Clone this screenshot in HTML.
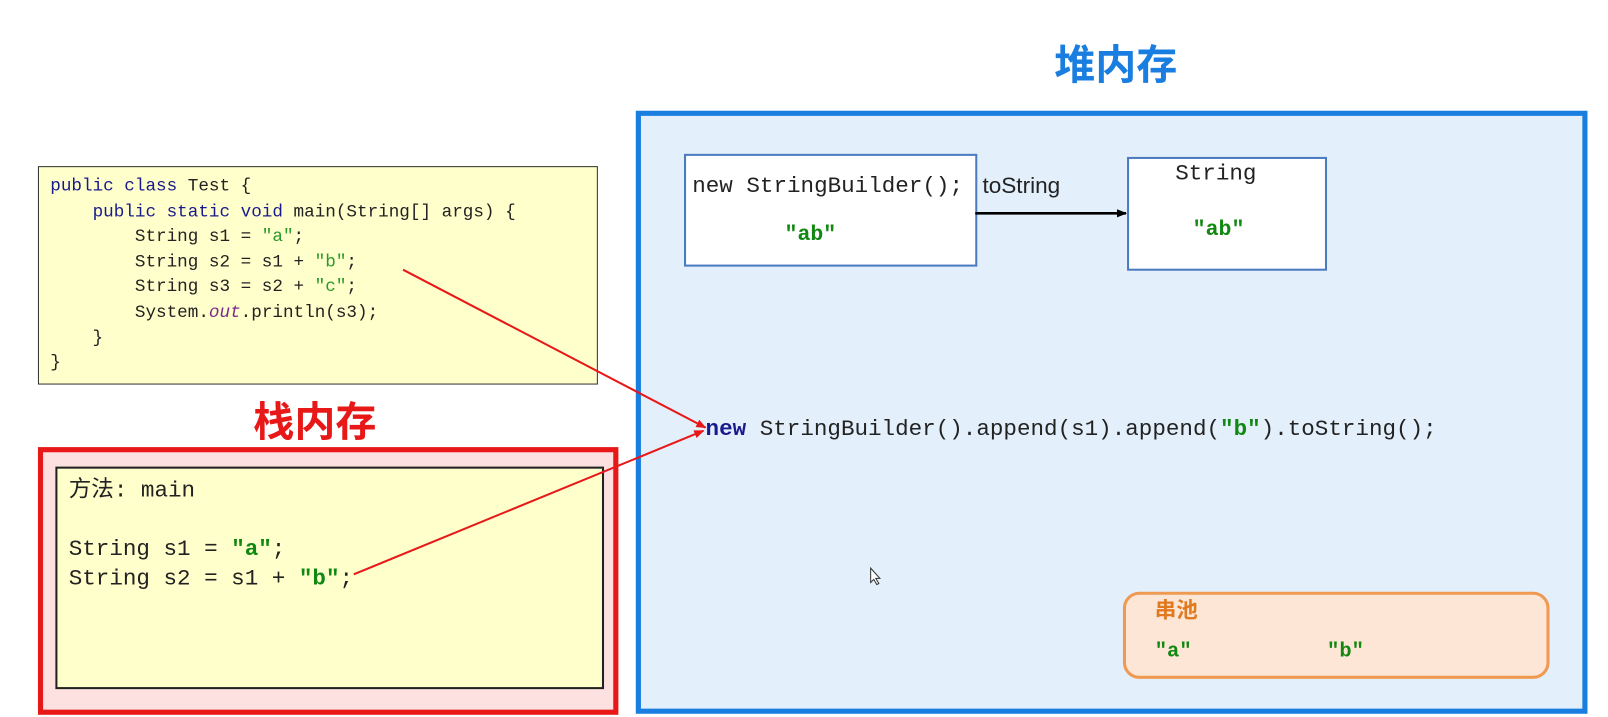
<!DOCTYPE html>
<html><head><meta charset="utf-8"><style>
body{margin:0;width:1608px;height:717px;background:#fff;position:relative;overflow:hidden;font-family:"Liberation Sans","Noto Sans CJK SC",sans-serif}
#w{position:absolute;left:0;top:0;width:1568px;height:699px;transform:scale(1.02551);transform-origin:0 0}
.abs{position:absolute}
.mono{font-family:"Liberation Mono","Noto Sans CJK SC",monospace;white-space:pre}
.kw{color:#1a1a8c}.str{color:#2a9a2a}.g{color:#118811;font-weight:bold}
</style></head><body><div id="w">
<div class="abs" style="left:1028px;top:31px;font-size:40px;font-weight:bold;color:#1a7ee0">堆内存</div>
<div class="abs" style="left:620px;top:108px;width:918px;height:578px;border:5px solid #1a7ee0;background:#e3f0fc"></div>
<div class="abs" style="left:667px;top:150px;width:282px;height:106px;border:2px solid #4a7abf;background:#fff"></div>
<div class="abs mono" style="left:675px;top:169px;font-size:22px;color:#222">new StringBuilder();</div>
<div class="abs mono g" style="left:765px;top:218px;font-size:21px">"ab"</div>
<div class="abs" style="left:958px;top:168px;font-size:22px;color:#222">toString</div>
<div class="abs" style="left:1099px;top:153px;width:191px;height:107px;border:2px solid #4a7abf;background:#fff"></div>
<div class="abs mono" style="left:1146px;top:157px;font-size:22px;color:#222">String</div>
<div class="abs mono g" style="left:1163px;top:213px;font-size:21px">"ab"</div>
<div class="abs mono" style="left:688px;top:406px;font-size:22px;color:#222"><b class="kw">new</b> StringBuilder().append(s1).append(<span class="g">"b"</span>).toString();</div>
<div class="abs" style="left:1095px;top:577px;width:410px;height:79px;border:3px solid #ef9a52;border-radius:16px;background:#fde6d6"></div>
<div class="abs" style="left:1126px;top:579px;font-size:21px;font-weight:bold;color:#e07a20">串池</div>
<div class="abs mono g" style="left:1126px;top:624px;font-size:20px">"a"</div>
<div class="abs mono g" style="left:1294px;top:624px;font-size:20px">"b"</div>

<div class="abs" style="left:37px;top:162px;width:544px;height:211px;border:1.5px solid #333;background:#ffffcc"></div>
<div class="abs mono" style="left:49px;top:171px;font-size:17.2px;line-height:24.6px;color:#222"><span class="kw">public class</span> Test {
    <span class="kw">public static void</span> main(String[] args) {
        String s1 = <span class="str">"a"</span>;
        String s2 = s1 + <span class="str">"b"</span>;
        String s3 = s2 + <span class="str">"c"</span>;
        System.<i style="color:#7a2a8a">out</i>.println(s3);
    }
}</div>
<div class="abs" style="left:247px;top:379px;font-size:40px;font-weight:bold;color:#e81818">栈内存</div>
<div class="abs" style="left:37px;top:436px;width:556px;height:251px;border:5px solid #e81818;background:#fde0e0"></div>
<div class="abs" style="left:54px;top:455px;width:531px;height:213px;border:2px solid #222;background:#ffffcc"></div>
<div class="abs mono" style="left:67px;top:465px;font-size:22px;line-height:28.5px;color:#222">方法: main

String s1 = <span class="g">"a"</span>;
String s2 = s1 + <span class="g">"b"</span>;</div>

<svg class="abs" style="left:0;top:0" width="1568" height="699">
<defs>
<marker id="r" markerWidth="10" markerHeight="8" refX="9" refY="4" orient="auto" markerUnits="userSpaceOnUse"><path d="M0,0 L10,4 L0,8z" fill="#e81818"/></marker>
<marker id="k" markerWidth="10" markerHeight="8" refX="9" refY="4" orient="auto" markerUnits="userSpaceOnUse"><path d="M0,0 L10,4 L0,8z" fill="#000"/></marker>
</defs>
<line x1="951" y1="208" x2="1098" y2="208" stroke="#000" stroke-width="2.5" marker-end="url(#k)"/>
<line x1="393" y1="263" x2="688" y2="417" stroke="#e81818" stroke-width="2" marker-end="url(#r)"/>
<line x1="345" y1="560" x2="686" y2="420" stroke="#e81818" stroke-width="2" marker-end="url(#r)"/>
<path d="M849 554 L849 568 L852 565 L855 570 L857 569 L854 564 L858 564 Z" fill="#fff" stroke="#333" stroke-width="1"/>
</svg>
</div></body></html>
